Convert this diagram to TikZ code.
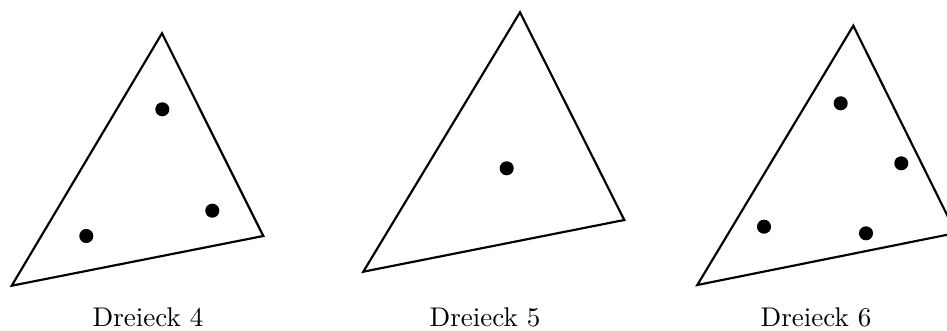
\documentclass[tikz,border=0pt]{standalone}
\usepackage{tikz}
\usetikzlibrary{positioning}
\tikzset{
  tri/.style={draw=black, line width=0.8pt, line join=miter},
  dot/.style={circle, fill=black, inner sep=0pt, minimum size=5.2pt},
  trilabel/.style={anchor=base, inner sep=0pt, font=\normalsize},
}

\begin{document}
\begin{tikzpicture}[x=0.37pt, y=-0.37pt]
  \useasboundingbox (0,0) rectangle (947,331);
  % triangle 4 --- three points inside
  \coordinate (a1) at (11.7,285.7);
  \coordinate (a2) at (162,33.3);
  \coordinate (a3) at (263.3,236);
  \draw[tri] (a1) -- (a2) -- (a3) -- cycle;
  \foreach \p [count=\i] in {(162.3,109.3),(212.3,210.7),(86.3,236)}
    \node[dot] (pa\i) at \p {};
  \node[trilabel] (la) at (148,326.7) {Dreieck 4};
  % triangle 5 --- one point
  \coordinate (b1) at (363.3,271.7);
  \coordinate (b2) at (520,12.3);
  \coordinate (b3) at (624.3,220);
  \draw[tri] (b1) -- (b2) -- (b3) -- cycle;
  \node[dot] (pb1) at (506.7,168.3) {};
  \node[trilabel] (lb) at (485,326.7) {Dreieck 5};
  % triangle 6 --- four points, right corner runs off the page
  \coordinate (c1) at (697.3,285);
  \coordinate (c2) at (853.3,25.7);
  \coordinate (c3) at (956,233);
  \begin{scope}
    \clip (0,0) rectangle (947,331);
    \draw[tri] (c1) -- (c2) -- (c3) -- cycle;
  \end{scope}
  \foreach \p [count=\i] in {(840.7,103.3),(901.3,163.3),(764,226.7),(866,233.3)}
    \node[dot] (pc\i) at \p {};
  \node[trilabel] (lc) at (816,326.7) {Dreieck 6};
\end{tikzpicture}
\end{document}
